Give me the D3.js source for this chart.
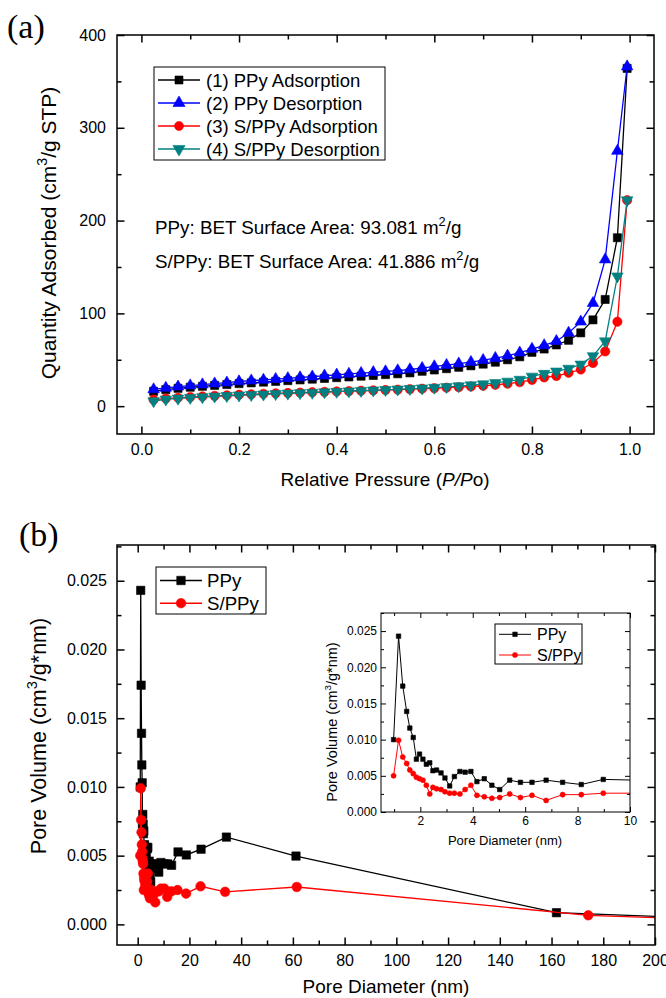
<!DOCTYPE html>
<html>
<head>
<meta charset="utf-8">
<script src="https://cdn.jsdelivr.net/npm/d3@7"></script>
<style>
  body { margin: 0; background: #fff; }
  svg text { font-family: "Liberation Sans", Arial, Helvetica, sans-serif; fill: #000; }
</style>
</head>
<body>
<svg id="fig" width="666" height="998"></svg>
<script>
// ---------------- (a) N2 adsorption / desorption isotherms ----------------
const relPressure = [0.025, 0.05, 0.075, 0.1, 0.125, 0.15, 0.175, 0.2, 0.225, 0.25,
  0.275, 0.3, 0.325, 0.35, 0.375, 0.4, 0.425, 0.45, 0.475, 0.5,
  0.525, 0.55, 0.575, 0.6, 0.625, 0.65, 0.675, 0.7, 0.725, 0.75,
  0.775, 0.8, 0.825, 0.85, 0.875, 0.9, 0.925, 0.95, 0.975, 0.995];
const ppyAdsorption = [16.0, 17.8, 19.2, 20.4, 21.4, 22.4, 23.3, 24.3, 25.1, 25.9,
  26.7, 27.5, 28.3, 29.1, 29.9, 30.7, 31.5, 32.3, 33.1, 34.0,
  34.9, 35.9, 37.6, 39.0, 40.4, 41.9, 43.5, 45.3, 47.4, 50.0,
  53.2, 58.0, 61.6, 66.0, 71.0, 79.0, 93.0, 115.0, 181.5, 364.0];
const ppyDesorption = [18.0, 19.6, 21.0, 22.2, 23.3, 24.3, 25.3, 26.6, 27.5, 28.3,
  29.1, 30.0, 30.9, 31.8, 32.8, 33.8, 34.7, 35.6, 36.5, 37.4,
  38.4, 39.5, 41.0, 42.8, 44.2, 45.8, 47.5, 49.5, 51.8, 54.3,
  57.6, 61.6, 65.5, 70.0, 79.0, 91.0, 111.0, 158.0, 275.0, 366.0];
const sppyAdsorption = [7.0, 8.2, 9.0, 9.8, 10.5, 11.1, 11.7, 12.3, 12.8, 13.3,
  13.8, 14.2, 14.6, 15.0, 15.4, 15.8, 16.2, 16.6, 17.0, 17.4,
  17.8, 18.3, 18.8, 19.3, 19.9, 20.5, 21.2, 22.0, 23.0, 24.2,
  25.8, 28.3, 31.0, 32.5, 36.0, 39.5, 46.5, 59.0, 91.0, 222.0];
const sppyDesorption = [5.5, 7.3, 8.3, 9.1, 9.8, 10.5, 11.1, 11.7, 12.2, 12.7,
  13.2, 13.7, 14.2, 14.6, 15.1, 15.6, 16.1, 16.6, 17.1, 17.6,
  18.1, 18.7, 19.3, 20.0, 20.8, 21.6, 22.6, 23.7, 25.0, 26.6,
  28.6, 32.0, 35.0, 37.5, 40.5, 45.0, 54.0, 70.0, 140.0, 222.0];
const isoLegend = ["(1) PPy Adsorption", "(2) PPy Desorption", "(3) S/PPy Adsorption", "(4) S/PPy Desorption"];
const isoXTicks = [0.0, 0.2, 0.4, 0.6, 0.8, 1.0];
const isoYTicks = [0, 100, 200, 300, 400];
const betPPy = "93.081";
const betSPPy = "41.886";

// ---------------- (b) BJH pore size distribution ----------------
const microDiam = [0.98, 1.17, 1.33, 1.48, 1.60, 1.73, 1.85, 1.97, 2.10, 2.23,
  2.36, 2.48, 2.62, 2.79, 2.94, 3.12, 3.30, 3.51, 3.71, 3.93,
  4.16, 4.44, 4.73, 5.03, 5.41, 5.82, 6.26, 6.80, 7.43, 8.14, 8.98];
const ppyDiam = microDiam.concat([10.3, 11.6, 13.1, 15.6, 18.8, 24.5, 34.3, 61.2, 161.9, 260]);
const ppyPoreVol = [0.0100, 0.0243, 0.0174, 0.0139, 0.0116, 0.0103, 0.0073, 0.0080, 0.0073, 0.0066,
  0.0068, 0.0057, 0.0058, 0.0054, 0.0047, 0.0036, 0.0049, 0.0056, 0.0055, 0.0056,
  0.0042, 0.0046, 0.0037, 0.0031, 0.0044, 0.0041, 0.0041, 0.0044, 0.0041, 0.0038, 0.0045,
  0.0044, 0.0044, 0.0043, 0.00527, 0.00505, 0.00547, 0.00635, 0.00497, 0.00085, 0.00015];
const sppyDiam = microDiam.concat([10.3, 11.4, 13.0, 15.4, 18.7, 24.3, 33.8, 61.5, 174.2, 260]);
const sppyPoreVol = [0.0050, 0.0099, 0.0076, 0.0067, 0.0058, 0.0053, 0.0048, 0.0046, 0.0044, 0.0037,
  0.0025, 0.0034, 0.0032, 0.0031, 0.0028, 0.0026, 0.0026, 0.0025, 0.0031, 0.0037,
  0.0023, 0.0021, 0.0019, 0.0020, 0.0025, 0.0020, 0.0023, 0.0016, 0.0024, 0.0024, 0.0026,
  0.0026, 0.0020, 0.0024, 0.0025, 0.00224, 0.00277, 0.00237, 0.00272, 0.00066, 0.00009];
const psdLegend = ["PPy", "S/PPy"];
const psdXTicks = [0, 20, 40, 60, 80, 100, 120, 140, 160, 180, 200];
const psdYTicks = [0.000, 0.005, 0.010, 0.015, 0.020, 0.025];
const insetXTicks = [2, 4, 6, 8, 10];
const insetYTicks = [0.000, 0.005, 0.010, 0.015, 0.020, 0.025];

// ---------------- helpers ----------------
const svg = d3.select("#fig");

function minorBetween(major, step, lo, hi) {
  const out = [];
  for (let v = lo; v <= hi + step * 1e-6; v += step) {
    const r = Math.round(v / step) * step;
    if (!major.some(m => Math.abs(m - r) < step * 1e-3)) out.push(r);
  }
  return out;
}

// Origin-style box: inward ticks on all four sides, labels bottom/left only
function boxAxes(g, x, y, o) {
  const [xl, xr] = x.range(), [yb, yt] = y.range();
  const sides = [
    { mk: d3.axisBottom, s: x, tr: `translate(0,${yb})`, maj: o.xMajor, min: o.xMinor, fmt: o.xFmt, pad: o.xPad },
    { mk: d3.axisTop, s: x, tr: `translate(0,${yt})`, maj: o.xMajor, min: o.xMinor },
    { mk: d3.axisLeft, s: y, tr: `translate(${xl},0)`, maj: o.yMajor, min: o.yMinor, fmt: o.yFmt, pad: o.yPad },
    { mk: d3.axisRight, s: y, tr: `translate(${xr},0)`, maj: o.yMajor, min: o.yMinor }
  ];
  sides.forEach(sd => {
    const gMaj = g.append("g").attr("transform", sd.tr)
      .call(sd.mk(sd.s).tickValues(sd.maj).tickSizeInner(-o.major).tickSizeOuter(0)
        .tickPadding(sd.pad || 0).tickFormat(sd.fmt ? d3.format(sd.fmt) : () => ""));
    const gMin = g.append("g").attr("transform", sd.tr)
      .call(sd.mk(sd.s).tickValues(sd.min).tickSizeInner(-o.minor).tickSizeOuter(0).tickFormat(() => ""));
    [gMaj, gMin].forEach(a => {
      a.select(".domain").remove();
      a.attr("font-family", null).attr("font-size", null);
      a.selectAll("line").attr("stroke", "#000").attr("stroke-width", o.lw);
      a.selectAll("text").attr("font-size", o.tickFont);
    });
  });
  g.append("rect").attr("x", xl).attr("y", yt).attr("width", xr - xl).attr("height", yb - yt)
    .attr("fill", "none").attr("stroke", "#000").attr("stroke-width", o.lw);
}

function symbolPath(kind, size) {
  const t = { square: d3.symbolSquare, circle: d3.symbolCircle, up: d3.symbolTriangle, down: d3.symbolTriangle }[kind];
  return d3.symbol().type(t).size(size)();
}

function drawSeries(g, x, y, xs, ys, color, kind, size, lw) {
  const pts = xs.map((d, i) => [d, ys[i]]);
  g.append("path").datum(pts)
    .attr("d", d3.line().x(d => x(d[0])).y(d => y(d[1])))
    .attr("fill", "none").attr("stroke", color).attr("stroke-width", lw);
  g.append("g").selectAll("path").data(pts).join("path")
    .attr("d", symbolPath(kind, size))
    .attr("transform", d => `translate(${x(d[0])},${y(d[1])})${kind === "down" ? " rotate(180)" : ""}`)
    .attr("fill", color).attr("stroke", color).attr("stroke-width", 0.6);
}

function legend(g, box, rows, o) {
  g.append("rect").attr("x", box[0]).attr("y", box[1]).attr("width", box[2]).attr("height", box[3])
    .attr("fill", "#fff").attr("stroke", "#000").attr("stroke-width", 1);
  rows.forEach((r, i) => {
    const cy = o.y0 + i * o.dy;
    g.append("line").attr("x1", o.lx1).attr("x2", o.lx2).attr("y1", cy).attr("y2", cy)
      .attr("stroke", r.color).attr("stroke-width", o.lw);
    g.append("path").attr("d", symbolPath(r.kind, o.size))
      .attr("transform", `translate(${(o.lx1 + o.lx2) / 2},${cy})${r.kind === "down" ? " rotate(180)" : ""}`)
      .attr("fill", r.color).attr("stroke", r.color).attr("stroke-width", 0.6);
    g.append("text").attr("x", o.tx).attr("y", cy).attr("dy", "0.36em")
      .attr("font-size", o.font).text(r.label);
  });
}

// text with superscript / italic pieces: parts = [[text, isSup, isItalic], ...]
function richText(sel, parts, fs) {
  let up = false;
  parts.forEach(([t, sup, ital]) => {
    const ts = sel.append("tspan").text(t);
    if (sup && !up) { ts.attr("dy", -0.42 * fs).attr("font-size", fs * 0.68); up = true; }
    else if (!sup && up) { ts.attr("dy", 0.42 * fs); up = false; }
    if (ital) ts.attr("font-style", "italic");
  });
  return sel;
}

// ---------------- panel (a) ----------------
{
  const g = svg.append("g");
  const x = d3.scaleLinear().domain([-0.05, 1.05]).range([117, 654]);
  const y = d3.scaleLinear().domain([-30, 400]).range([434, 35]);

  const colors = ["#000000", "#0000ff", "#ff0000", "#008080"];
  const kinds = ["square", "up", "circle", "down"];
  const sizes = [66, 58, 68, 58];
  [ppyAdsorption, ppyDesorption, sppyAdsorption, sppyDesorption].forEach((s, i) =>
    drawSeries(g, x, y, relPressure, s, colors[i], kinds[i], sizes[i], 1.3));

  boxAxes(g, x, y, {
    xMajor: isoXTicks, xMinor: minorBetween(isoXTicks, 0.1, 0, 1.0), xFmt: ".1f", xPad: 10,
    yMajor: isoYTicks, yMinor: minorBetween(isoYTicks, 50, 0, 400), yFmt: "d", yPad: 11,
    major: 7.5, minor: 4.5, lw: 1.5, tickFont: 16
  });

  legend(g, [154, 67, 231, 93], isoLegend.map((l, i) => ({ label: l, color: colors[i], kind: kinds[i] })),
    { y0: 80, dy: 23, lx1: 158, lx2: 200, tx: 206, size: 64, lw: 1.5, font: 18.5 });

  richText(g.append("text").attr("x", 155).attr("y", 234).attr("font-size", 18.8),
    [["PPy: BET Surface Area: " + betPPy + " m"], ["2", true], ["/g"]], 18.8);
  richText(g.append("text").attr("x", 155).attr("y", 268).attr("font-size", 18.8),
    [["S/PPy: BET Surface Area: " + betSPPy + " m"], ["2", true], ["/g"]], 18.8);

  richText(g.append("text").attr("x", 385).attr("y", 486).attr("text-anchor", "middle").attr("font-size", 19),
    [["Relative Pressure ("], ["P/P", false, true], ["o)"]], 19);
  richText(g.append("text").attr("transform", "translate(56,233) rotate(-90)").attr("text-anchor", "middle").attr("font-size", 21),
    [["Quantity Adsorbed (cm"], ["3", true], ["/g STP)"]], 21);

  g.append("text").attr("x", 7).attr("y", 38).attr("font-size", 34)
    .style("font-family", "'Liberation Serif', 'Times New Roman', serif").text("(a)");
}

// ---------------- panel (b) ----------------
{
  const g = svg.append("g");
  const x = d3.scaleLinear().domain([-8, 200]).range([117, 655]);
  const y = d3.scaleLinear().domain([-0.0015, 0.0276]).range([945, 545]);

  svg.append("defs").append("clipPath").attr("id", "clipB")
    .append("rect").attr("x", 117).attr("y", 545).attr("width", 538).attr("height", 400);
  const plot = g.append("g").attr("clip-path", "url(#clipB)");
  drawSeries(plot, x, y, ppyDiam, ppyPoreVol, "#000000", "square", 70, 1.3);
  drawSeries(plot, x, y, sppyDiam, sppyPoreVol, "#ff0000", "circle", 72, 1.3);

  boxAxes(g, x, y, {
    xMajor: psdXTicks, xMinor: minorBetween(psdXTicks, 10, 0, 200), xFmt: "d", xPad: 10,
    yMajor: psdYTicks, yMinor: minorBetween(psdYTicks, 0.0025, 0, 0.0275), yFmt: ".3f", yPad: 10,
    major: 7.5, minor: 4.5, lw: 1.5, tickFont: 16
  });

  legend(g, [156, 567, 110, 47], [
    { label: psdLegend[0], color: "#000000", kind: "square" },
    { label: psdLegend[1], color: "#ff0000", kind: "circle" }],
    { y0: 580.5, dy: 22.7, lx1: 160, lx2: 202, tx: 207, size: 72, lw: 1.5, font: 18.7 });

  g.append("text").attr("x", 386).attr("y", 993).attr("text-anchor", "middle")
    .attr("font-size", 19).text("Pore Diameter (nm)");
  richText(g.append("text").attr("transform", "translate(46,736) rotate(-90)").attr("text-anchor", "middle").attr("font-size", 21.5),
    [["Pore Volume (cm"], ["3", true], ["/g*nm)"]], 21.5);

  g.append("text").attr("x", 19).attr("y", 546).attr("font-size", 34)
    .style("font-family", "'Liberation Serif', 'Times New Roman', serif").text("(b)");

  // inset: micropore region
  const gi = g.append("g");
  const xi = d3.scaleLinear().domain([0.5, 10]).range([381, 630]);
  const yi = d3.scaleLinear().domain([0, 0.0275]).range([812, 613]);
  gi.append("rect").attr("x", 381).attr("y", 613).attr("width", 249).attr("height", 199).attr("fill", "#fff");
  svg.select("defs").append("clipPath").attr("id", "clipI")
    .append("rect").attr("x", 381).attr("y", 613).attr("width", 249).attr("height", 199);
  const ip = gi.append("g").attr("clip-path", "url(#clipI)");
  drawSeries(ip, xi, yi, ppyDiam, ppyPoreVol, "#000000", "square", 20, 1);
  drawSeries(ip, xi, yi, sppyDiam, sppyPoreVol, "#ff0000", "circle", 20, 1);

  boxAxes(gi, xi, yi, {
    xMajor: insetXTicks, xMinor: minorBetween(insetXTicks, 1, 1, 10), xFmt: "d", xPad: 4,
    yMajor: insetYTicks, yMinor: minorBetween(insetYTicks, 0.0025, 0, 0.0275), yFmt: ".3f", yPad: 4,
    major: 5, minor: 3, lw: 1, tickFont: 12
  });

  legend(gi, [495, 624, 87, 40], [
    { label: psdLegend[0], color: "#000000", kind: "square" },
    { label: psdLegend[1], color: "#ff0000", kind: "circle" }],
    { y0: 634.3, dy: 20.7, lx1: 499, lx2: 531, tx: 537, size: 20, lw: 1, font: 16 });

  gi.append("text").attr("x", 505).attr("y", 845).attr("text-anchor", "middle")
    .attr("font-size", 13).text("Pore Diameter (nm)");
  richText(gi.append("text").attr("transform", "translate(337,722) rotate(-90)").attr("text-anchor", "middle").attr("font-size", 14.5),
    [["Pore Volume (cm"], ["3", true], ["/g*nm)"]], 14.5);
}
</script>
</body>
</html>
